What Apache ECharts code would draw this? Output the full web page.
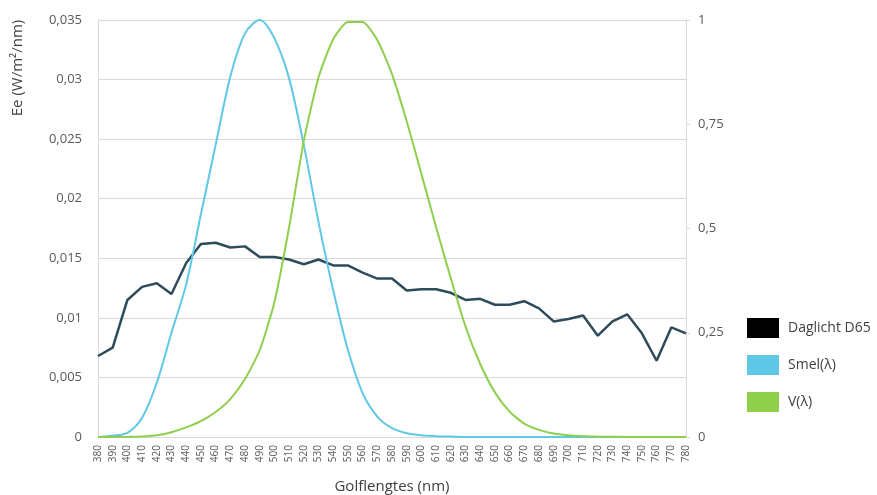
<!DOCTYPE html>
<html>
<head>
<meta charset="utf-8">
<script src="https://cdn.jsdelivr.net/npm/echarts@6/dist/echarts.min.js"></script>
<style>
  html, body { margin: 0; padding: 0; background: #fff; }
  #chart { width: 877px; height: 495px; }
</style>
</head>
<body>
<div id="chart"></div>
<script>
// golflengtes (nm)
var golflengtes = ['380','390','400','410','420','430','440','450','460','470',
	'480','490','500','510','520','530','540','550','560','570',
	'580','590','600','610','620','630','640','650','660','670',
	'680','690','700','710','720','730','740','750','760','770','780'];
// Ee van daglicht D65 (W/m2/nm), linker as
var daglichtD65 = [0.0068, 0.0075, 0.0115, 0.0126, 0.0129, 0.0120, 0.0146, 0.0162, 0.0163, 0.0159,
	0.0160, 0.0151, 0.0151, 0.0149, 0.0145, 0.0149, 0.0144, 0.0144, 0.0138, 0.0133,
	0.0133, 0.0123, 0.0124, 0.0124, 0.0121, 0.0115, 0.0116, 0.0111, 0.0111, 0.0114,
	0.0108, 0.0097, 0.0099, 0.0102, 0.0085, 0.0097, 0.0103, 0.0087, 0.0064, 0.0092, 0.0087];
// Smel(λ), rechter as
var smel = [0, 0.003, 0.01, 0.046, 0.13, 0.25, 0.366, 0.534, 0.70, 0.864,
	0.968, 1.0, 0.956, 0.86, 0.70, 0.516, 0.352, 0.209, 0.105, 0.049,
	0.021, 0.009, 0.004, 0.002, 0.001, 0, 0, 0, 0, 0,
	0, 0, 0, 0, 0, 0, 0, 0, 0, 0, 0];
// V(λ), rechter as
var vLambda = [0.00004, 0.0001, 0.0004, 0.0012, 0.004, 0.0116, 0.023, 0.038, 0.06, 0.091,
	0.139, 0.208, 0.323, 0.503, 0.71, 0.862, 0.954, 0.995, 0.995, 0.952,
	0.87, 0.757, 0.631, 0.503, 0.381, 0.265, 0.175, 0.107, 0.061, 0.032,
	0.017, 0.0082, 0.0041, 0.0021, 0.001, 0.0005, 0.00025, 0.00012, 0.00006, 0.00003, 0.000015];

var komma = function (v) { return String(v).replace('.', ','); };
var fontFam = '"Open Sans", sans-serif';

var myChart = echarts.init(document.getElementById('chart'));
var option = {
	backgroundColor: '#fff',
	animation: false,
	textStyle: { fontFamily: fontFam },
	grid: {
		left: 98,
		right: 191,
		top: 20,
		bottom: 58,
		containLabel: false,
		outerBoundsMode: 'none'
	},
	legend: {
		orient: 'vertical',
		left: 742,
		top: 313,
		icon: 'rect',
		itemWidth: 32,
		itemHeight: 20,
		itemGap: 17,
		textStyle: { color: '#404040', fontSize: 14, fontFamily: fontFam, padding: [0, 0, 0, 4] },
		data: [
			{ name: 'Daglicht D65', itemStyle: { color: '#000' } },
			{ name: 'Smel(λ)', itemStyle: { color: '#5ec8e6' } },
			{ name: 'V(λ)', itemStyle: { color: '#8fcf4c' } }
		]
	},
	graphic: [{
		type: 'text',
		x: 18,
		y: 68,
		rotation: Math.PI / 2,
		style: {
			text: 'Ee (W/m²/nm)',
			font: '15px "Open Sans", sans-serif',
			fill: '#404040',
			textAlign: 'center',
			textVerticalAlign: 'middle'
		}
	}],
	xAxis: {
		type: 'category',
		data: golflengtes,
		boundaryGap: false,
		name: 'Golflengtes (nm)',
		nameLocation: 'middle',
		nameGap: 42,
		nameTextStyle: { color: '#404040', fontSize: 15 },
		axisLine: { lineStyle: { color: '#d9d9d9', width: 1 } },
		axisTick: { show: false },
		axisLabel: {
			interval: 0,
			rotate: 90,
			margin: 8,
			color: '#595959',
			fontSize: 10
		},
		splitLine: { show: false }
	},
	yAxis: [{
		type: 'value',
		min: 0,
		max: 0.035,
		interval: 0.005,
		axisLine: { show: true, lineStyle: { color: '#d9d9d9' } },
		axisTick: { show: false },
		axisLabel: { color: '#595959', fontSize: 13, margin: 16, formatter: komma },
		splitLine: { lineStyle: { color: '#d9d9d9', width: 1 } }
	}, {
		type: 'value',
		min: 0,
		max: 1,
		interval: 0.25,
		position: 'right',
		axisLine: { show: true, lineStyle: { color: '#d9d9d9' } },
		axisTick: { show: true, length: 4, lineStyle: { color: '#d9d9d9' } },
		axisLabel: { color: '#595959', fontSize: 13, margin: 12, formatter: komma },
		splitLine: { show: false }
	}],
	series: [{
		name: 'Daglicht D65',
		type: 'line',
		yAxisIndex: 0,
		symbol: 'none',
		lineStyle: { color: '#2e4b5c', width: 2.5 },
		itemStyle: { color: '#2e4b5c' },
		data: daglichtD65
	}, {
		name: 'Smel(λ)',
		type: 'line',
		yAxisIndex: 1,
		symbol: 'none',
		smooth: 0.3,
		lineStyle: { color: '#5ec8e6', width: 2 },
		itemStyle: { color: '#5ec8e6' },
		data: smel
	}, {
		name: 'V(λ)',
		type: 'line',
		yAxisIndex: 1,
		symbol: 'none',
		smooth: 0.2,
		lineStyle: { color: '#8fcf4c', width: 2 },
		itemStyle: { color: '#8fcf4c' },
		data: vLambda
	}]
};
myChart.setOption(option);
</script>
</body>
</html>
